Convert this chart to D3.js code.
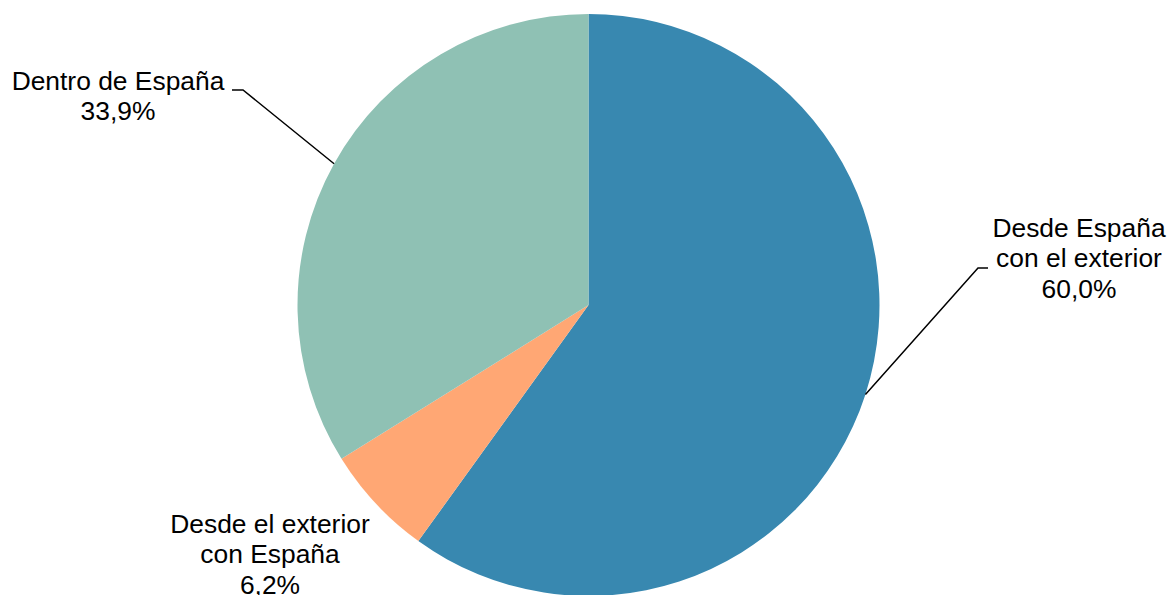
<!DOCTYPE html>
<html>
<head>
<meta charset="utf-8">
<script src="https://cdn.jsdelivr.net/npm/d3@7"></script>
<style>
  html, body { margin: 0; padding: 0; background: #ffffff; }
  svg { display: block; }
  text { font-family: "Liberation Sans", Arial, sans-serif; font-size: 26.4px; fill: #000; }
</style>
</head>
<body>
<svg id="chart" width="1170" height="595"></svg>
<script>
const categories = ["Desde España con el exterior", "Desde el exterior con España", "Dentro de España"];
const values = [60.0, 6.2, 33.9];
const valueLabels = ["60,0%", "6,2%", "33,9%"];
const labelLines = [["Desde España", "con el exterior"], ["Desde el exterior", "con España"], ["Dentro de España"]];
const colors = ["#3888B0", "#FFA774", "#8FC1B4"];

const W = 1170, H = 595;
const cx = 588.5, cy = 305, R = 291;

// label layout: anchor x, first baseline y, optional leader bend point and elbow end
const labelLayout = [
  { x: 1079, y: 237, leader: { bend: [978, 268], end: [988, 268] } },
  { x: 270, y: 533, leader: null },
  { x: 118, y: 90, leader: { bend: [243, 90], end: [232, 90] } }
];

const svg = d3.select("#chart");
const g = svg.append("g").attr("transform", `translate(${cx},${cy})`);

const data = categories.map((c, i) => ({ name: c, value: values[i], i }));
const pie = d3.pie().sort(null).value(d => d.value);
const arcs = pie(data);
const arc = d3.arc().innerRadius(0).outerRadius(R);

g.selectAll("path.slice")
  .data(arcs)
  .join("path")
  .attr("class", "slice")
  .attr("d", arc)
  .attr("fill", d => colors[d.data.i]);

// leaders
arcs.forEach(a => {
  const L = labelLayout[a.data.i];
  if (!L.leader) return;
  const mid = (a.startAngle + a.endAngle) / 2;
  const sx = cx + R * Math.sin(mid);
  const sy = cy - R * Math.cos(mid);
  const path = d3.path();
  path.moveTo(sx, sy);
  path.lineTo(L.leader.bend[0], L.leader.bend[1]);
  path.lineTo(L.leader.end[0], L.leader.end[1]);
  svg.append("path")
    .attr("d", path.toString())
    .attr("fill", "none")
    .attr("stroke", "#000")
    .attr("stroke-width", 1.5);
});

// labels
const lineH = 30.3;
arcs.forEach(a => {
  const i = a.data.i;
  const L = labelLayout[i];
  const lines = labelLines[i].concat([valueLabels[i]]);
  const t = svg.append("text")
    .attr("text-anchor", "middle")
    .attr("x", L.x)
    .attr("y", L.y);
  lines.forEach((ln, k) => {
    t.append("tspan")
      .attr("x", L.x)
      .attr("y", L.y + k * lineH)
      .text(ln);
  });
});
</script>
</body>
</html>
